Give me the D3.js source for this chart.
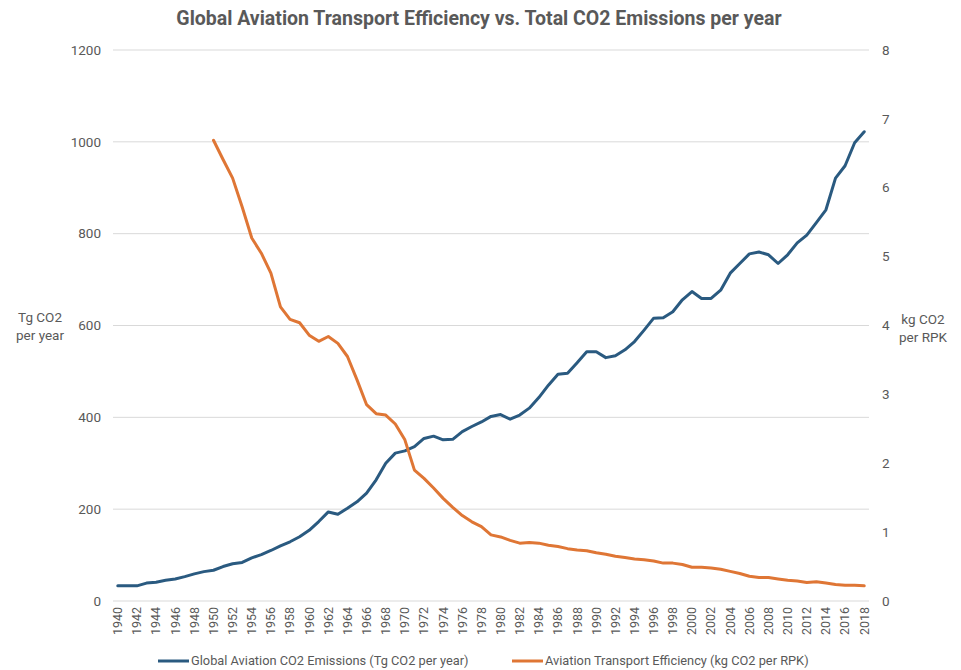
<!DOCTYPE html>
<html>
<head>
<meta charset="utf-8">
<script src="https://cdn.jsdelivr.net/npm/d3@7"></script>
<style>
  body { margin: 0; background: #fff; }
  svg text { font-family: Roboto, "Liberation Sans", sans-serif; fill: #595959; }
</style>
</head>
<body>
<svg id="chart" width="961" height="670"></svg>
<script>
//========================
//   Data
//========================
var years = d3.range(1940, 2019);

//Global aviation CO2 emissions, Tg CO2 per year (1940-2018)
var emissions = [
  33, 33, 33, 39, 41, 45, 48, 53, 59, 64,
  67, 75, 81, 84, 94, 101, 110, 120, 129, 140,
  154, 173, 194, 189, 202, 216, 235, 264, 300, 322,
  327, 336, 354, 359, 351, 352, 369, 380, 390, 402,
  406, 396, 405, 420, 443, 470, 494, 496, 519, 543,
  543, 530, 534, 547, 565, 590, 616, 617, 630, 656,
  674, 659, 659, 677, 714, 735, 756, 760, 754, 735,
  754, 780, 797, 824, 852, 921, 948, 998, 1022
];

//Aviation transport efficiency, kg CO2 per RPK (starts 1950)
var efficiencyStart = 1950;
var efficiency = [
  6.69, 6.41, 6.14, 5.72, 5.27, 5.05, 4.76, 4.27, 4.09, 4.04,
  3.86, 3.77, 3.84, 3.74, 3.55, 3.21, 2.85, 2.72, 2.70, 2.57,
  2.34, 1.90, 1.78, 1.64, 1.49, 1.36, 1.24, 1.15, 1.08, 0.96,
  0.93, 0.88, 0.84, 0.85, 0.84, 0.81, 0.79, 0.76, 0.74, 0.73,
  0.70, 0.68, 0.65, 0.63, 0.61, 0.60, 0.58, 0.55, 0.55, 0.53,
  0.49, 0.49, 0.48, 0.46, 0.43, 0.40, 0.36, 0.34, 0.34, 0.32,
  0.30, 0.29, 0.27, 0.28, 0.26, 0.24, 0.23, 0.23, 0.22
];

var leftTicks = [0, 200, 400, 600, 800, 1000, 1200];
var rightTicks = [0, 1, 2, 3, 4, 5, 6, 7, 8];
var xLabels = years.filter(function(y) { return y % 2 === 0; });

var title = "Global Aviation Transport Efficiency vs. Total CO2 Emissions per year";
var seriesNames = ["Global Aviation CO2 Emissions (Tg CO2 per year)",
                   "Aviation Transport Efficiency (kg CO2 per RPK)"];
var colors = ["#2a5a80", "#df7635"];

//========================
//   Scales
//========================
var plot = { left: 113, right: 869, top: 50, bottom: 601 };

var x = d3.scalePoint().domain(years).range([plot.left, plot.right]).padding(0.5);
var yLeft = d3.scaleLinear().domain([0, 1200]).range([plot.bottom, plot.top]);
var yRight = d3.scaleLinear().domain([0, 8]).range([plot.bottom, plot.top]);

var svg = d3.select("#chart");

//Title
svg.append("text")
  .attr("x", 479).attr("y", 25)
  .attr("text-anchor", "middle")
  .style("font-size", "19.5px").style("font-weight", "bold")
  .text(title);

//Gridlines (left axis)
svg.append("g").selectAll("line").data(leftTicks).join("line")
  .attr("x1", plot.left).attr("x2", plot.right)
  .attr("y1", function(d) { return yLeft(d); })
  .attr("y2", function(d) { return yLeft(d); })
  .attr("stroke", "#d9d9d9").attr("stroke-width", 1);

//Left axis labels
svg.append("g").selectAll("text").data(leftTicks).join("text")
  .attr("x", 101).attr("y", function(d) { return yLeft(d); })
  .attr("dy", "0.35em").attr("text-anchor", "end")
  .style("font-size", "13.5px")
  .text(function(d) { return d; });

//Right axis labels
svg.append("g").selectAll("text").data(rightTicks).join("text")
  .attr("x", 882).attr("y", function(d) { return yRight(d); })
  .attr("dy", "0.35em").attr("text-anchor", "start")
  .style("font-size", "13.5px")
  .text(function(d) { return d; });

//Axis titles
var leftTitle = svg.append("text").attr("text-anchor", "middle").style("font-size", "13.5px");
leftTitle.append("tspan").attr("x", 40).attr("y", 322).text("Tg CO2");
leftTitle.append("tspan").attr("x", 40).attr("y", 340).text("per year");
var rightTitle = svg.append("text").attr("text-anchor", "middle").style("font-size", "13.5px");
rightTitle.append("tspan").attr("x", 923).attr("y", 324).text("kg CO2");
rightTitle.append("tspan").attr("x", 923).attr("y", 342).text("per RPK");

//X axis labels (rotated)
svg.append("g").selectAll("text").data(xLabels).join("text")
  .attr("transform", function(d) { return "translate(" + x(d) + ",607) rotate(-90)"; })
  .attr("dy", "0.35em").attr("text-anchor", "end")
  .style("font-size", "12.5px")
  .text(function(d) { return d; });

//========================
//   Lines
//========================
var emissionLine = d3.line()
  .x(function(d, i) { return x(years[i]); })
  .y(function(d) { return yLeft(d); });

var efficiencyLine = d3.line()
  .x(function(d, i) { return x(efficiencyStart + i); })
  .y(function(d) { return yRight(d); });

svg.append("path").datum(emissions)
  .attr("d", emissionLine)
  .attr("fill", "none").attr("stroke", colors[0])
  .attr("stroke-width", 3).attr("stroke-linejoin", "round").attr("stroke-linecap", "round");

svg.append("path").datum(efficiency)
  .attr("d", efficiencyLine)
  .attr("fill", "none").attr("stroke", colors[1])
  .attr("stroke-width", 3).attr("stroke-linejoin", "round").attr("stroke-linecap", "round");

//========================
//   Legend
//========================
var legendX = [158, 512];
var legend = svg.append("g").selectAll("g").data(seriesNames).join("g")
  .attr("transform", function(d, i) { return "translate(" + legendX[i] + ",661)"; });
legend.append("line")
  .attr("x1", 0).attr("x2", 31).attr("y1", 0).attr("y2", 0)
  .attr("stroke", function(d, i) { return colors[i]; }).attr("stroke-width", 3);
legend.append("text")
  .attr("x", 33).attr("dy", "0.35em")
  .style("font-size", "12.8px")
  .text(function(d) { return d; });
</script>
</body>
</html>
